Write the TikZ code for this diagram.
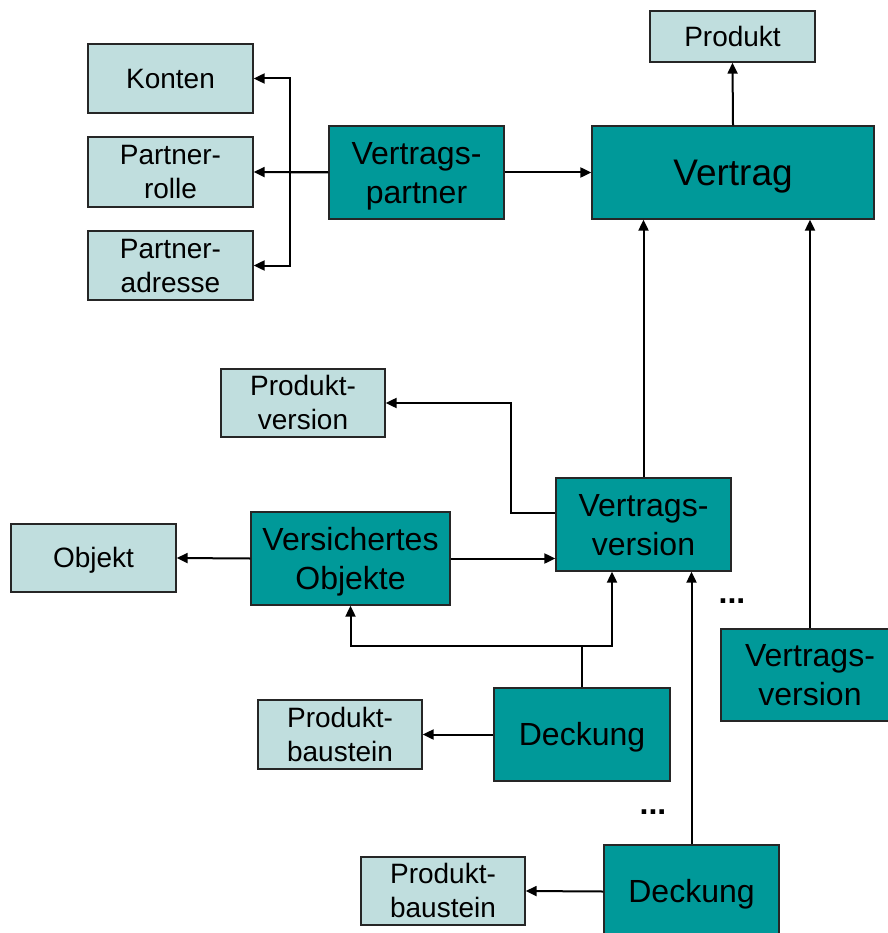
\documentclass[tikz,border=0pt]{standalone}
\usepackage{fontspec}
\setmainfont{Liberation Sans}
\usetikzlibrary{arrows.meta}
\definecolor{tealdark}{RGB}{0,153,153}
\definecolor{teallight}{RGB}{192,222,222}
\newcommand{\bs}{\rule[-0.212em]{0pt}{1.117em}}
\begin{document}
\begin{tikzpicture}[x=1pt,y=-1pt,
  box/.style={draw=black!85, line width=1.3pt, inner sep=0pt, align=center},
  sz/.style 2 args={minimum width=#1pt, minimum height=#2pt},
  light/.style={box, fill=teallight, font=\fontsize{28}{33.6}\selectfont},
  dark/.style={box, fill=tealdark, font=\fontsize{32}{39}\selectfont},
  arr/.style={line width=2pt, -{Triangle[length=11pt,width=10pt]}},
  dots/.style={font=\fontsize{32}{38}\selectfont\bfseries, inner sep=0pt, anchor=base}]
\useasboundingbox (0,0) rectangle (887,933);

% nodes
\node[light, sz={165}{69}] (konten) at (170.5,78.5) {\bs Konten\bs};
\node[light, sz={165}{70}] (rolle) at (170.5,172) {\bs Partner-\\rolle\bs};
\node[light, sz={165}{69}] (adresse) at (170.5,265.5) {\bs Partner-\\adresse\bs};
\node[dark, sz={175}{93}] (vp) at (416.5,172.5) {\bs Vertrags-\\partner\bs};
\node[light, sz={165}{51}] (produkt) at (732.5,36.5) {\bs Produkt\bs};
\node[dark, sz={282}{93}, font=\fontsize{37}{44}\selectfont] (vertrag) at (733,172.5) {\bs Vertrag\bs};
\node[light, sz={164}{68}] (pv) at (303,403) {\bs Produkt-\\version\bs};
\node[light, sz={165}{68}] (objekt) at (93.5,558) {\bs Objekt\bs};
\node[dark, sz={199}{93}] (vo) at (350.5,558.5) {\bs Versichertes\\Objekte\bs};
\node[dark, sz={175}{93}] (vv) at (643.5,524.5) {\bs Vertrags-\\version\bs};
\node[dark, sz={178}{92}] (vv2) at (810,675) {\bs Vertrags-\\version\bs};
\node[dark, sz={176}{93}] (d1) at (582,734.5) {\bs Deckung\bs};
\node[light, sz={164}{69}] (pb1) at (340,734.5) {\bs Produkt-\\baustein\bs};
\node[dark, sz={175}{93}] (d2) at (691.5,891.5) {\bs Deckung\bs};
\node[light, sz={164}{68}] (pb2) at (443,891) {\bs Produkt-\\baustein\bs};

\node[dots] (dotsa) at (732,603) {...};
\node[dots] (dotsb) at (653,814) {...};

% connectors
\draw[arr] (vp.west) -- ++(-38,0) |- (konten.east);
\draw[arr] (vp.west) -- (rolle.east);
\draw[arr] (vp.west) -- ++(-38,0) |- (adresse.east);
\draw[arr] (vp.east) -- (vertrag.west);
\draw[arr] (vertrag.north) -- (produkt.south);
\draw[arr] (vv.north) -- (vv.north |- vertrag.south);
\draw[arr] (vv2.north) -- (vv2.north |- vertrag.south);
\draw[arr] ([yshift=11.5pt]vv.west) -- ++(-44,0) |- (pv.east);
\draw[arr] (vo.east) -- (vo.east -| vv.west);
\draw[arr] (vo.west) -- (objekt.east);
\draw[arr] (d1.north) -- ++(0,-41) -| (vo.south);
\draw[arr] (d1.north) -- ++(0,-41) -| ([xshift=-31.5pt]vv.south);
\draw[arr] (d1.west) -- (pb1.east);
\draw[arr] (d2.north) -- (d2.north |- vv.south);
\draw[arr] (d2.west) -- (pb2.east);
\end{tikzpicture}
\end{document}
